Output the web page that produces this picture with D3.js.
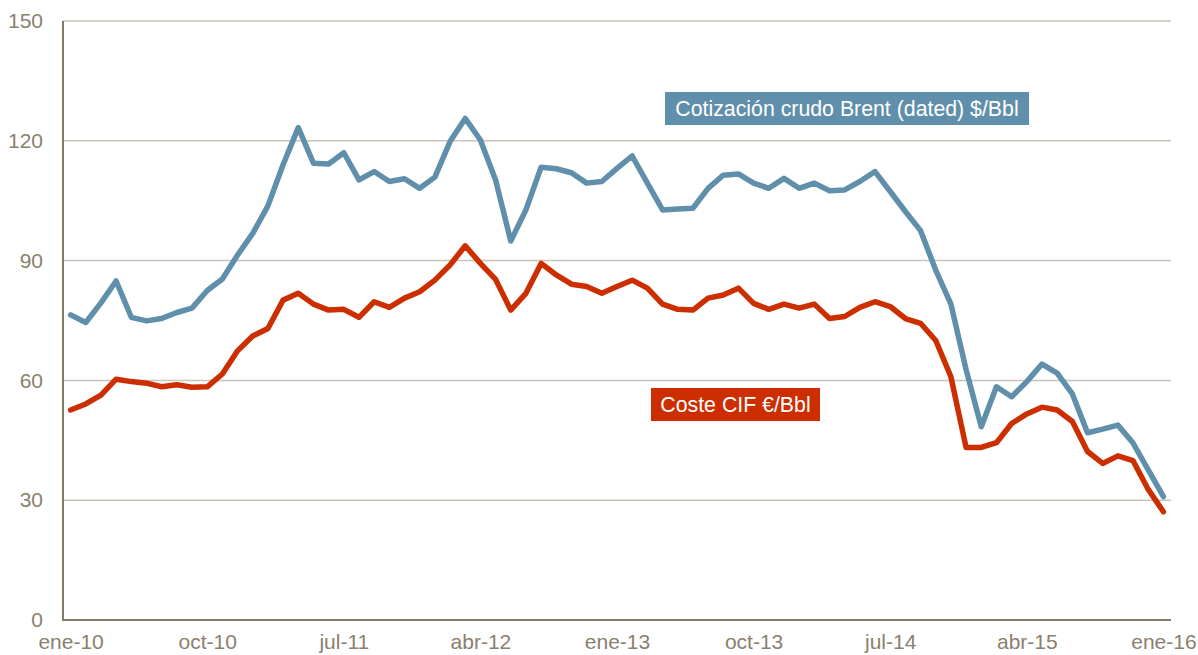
<!DOCTYPE html>
<html><head><meta charset="utf-8">
<script src="https://cdn.jsdelivr.net/npm/d3@7"></script>
<style>
html,body{margin:0;padding:0;background:#fff;}
svg{display:block;font-family:"Liberation Sans",Arial,sans-serif;}
</style></head>
<body><svg id="c" width="1198" height="655"></svg>
<script>
const monthAbbr = ["ene","feb","mar","abr","may","jun","jul","ago","sep","oct","nov","dic"];
const years = [10,11,12,13,14,15,16];
const categories = [];
years.forEach(yr => monthAbbr.forEach((m,i) => { if (yr < 16 || i === 0) categories.push(m + "-" + yr); }));
const tickLabels = ["ene-10","oct-10","jul-11","abr-12","ene-13","oct-13","jul-14","abr-15","ene-16"];
const yTicks = [0,30,60,90,120,150];

const brent = [76.4,74.5,79.4,84.9,75.8,74.9,75.5,77.0,78.1,82.5,85.4,91.4,
  96.8,103.7,114.0,123.3,114.4,114.2,117.0,110.2,112.3,109.8,110.5,108.1,
  110.9,119.8,125.6,120.2,110.2,94.9,102.7,113.4,113.0,112.0,109.4,109.8,
  113.1,116.2,109.4,102.7,102.9,103.1,108.1,111.4,111.7,109.4,108.1,110.6,
  108.1,109.4,107.5,107.7,109.8,112.3,107.3,102.3,97.5,87.6,79.1,62.7,
  48.4,58.4,55.9,59.7,64.1,61.8,56.6,46.9,47.8,48.8,44.3,37.6,30.9];
const cif = [52.6,54.1,56.3,60.3,59.7,59.3,58.4,58.9,58.3,58.4,61.6,67.4,
  71.1,73.0,80.1,81.8,79.1,77.6,77.8,75.8,79.7,78.3,80.6,82.2,
  85.1,88.9,93.7,89.3,85.3,77.6,81.8,89.3,86.4,84.1,83.5,81.8,
  83.5,85.1,83.1,79.1,77.8,77.6,80.6,81.4,83.1,79.3,77.8,79.1,
  78.1,79.1,75.5,76.0,78.3,79.7,78.5,75.5,74.3,70.0,60.9,43.2,
  43.2,44.4,49.2,51.6,53.3,52.6,49.7,42.2,39.2,41.1,39.9,32.7,27.1];
const seriesNames = ["Cotización crudo Brent (dated) $/Bbl","Coste CIF €/Bbl"];

(function(){
const svg = d3.select("#c");
const mLeft = 63, mRight = 1171, mTop = 21, mBottom = 620;
const x = d3.scalePoint().domain(categories).range([mLeft, mRight]).padding(0.5);
const y = d3.scaleLinear().domain([0,150]).range([mBottom, mTop]);

const gridColor = "#c9c4bc", axisColor = "#857b67", textColor = "#8a806e";
const blue = "#5f8faa", red = "#cc2e00";

svg.append("g").selectAll("line").data(yTicks.filter(d => d > 0)).join("line")
  .attr("x1", mLeft).attr("x2", mRight)
  .attr("y1", d => y(d)).attr("y2", d => y(d))
  .attr("stroke", gridColor).attr("stroke-width", 1.5);

const yAxis = d3.axisLeft(y).tickValues(yTicks).tickSize(0).tickPadding(20);
const gy = svg.append("g").attr("transform", `translate(${mLeft},0)`).call(yAxis);
gy.select(".domain").remove();
gy.selectAll("text").attr("fill", textColor).style("font-size","21px")
  .style("font-family","'Liberation Sans',Arial,sans-serif");

const xAxis = d3.axisBottom(x).tickValues(tickLabels).tickSize(0).tickPadding(14);
const gx = svg.append("g").attr("transform", `translate(0,${mBottom})`).call(xAxis);
gx.select(".domain").remove();
gx.selectAll("text").attr("fill", textColor).style("font-size","21px")
  .style("font-family","'Liberation Sans',Arial,sans-serif");

svg.append("line").attr("x1", mLeft).attr("x2", mLeft).attr("y1", mTop).attr("y2", mBottom)
  .attr("stroke", axisColor).attr("stroke-width", 2);
svg.append("line").attr("x1", mLeft - 1).attr("x2", mRight).attr("y1", mBottom).attr("y2", mBottom)
  .attr("stroke", axisColor).attr("stroke-width", 2);

const line = d3.line().x((d,i) => x(categories[i])).y(d => y(d));
svg.append("path").datum(brent).attr("d", line).attr("fill","none")
  .attr("stroke", blue).attr("stroke-width", 5.5).attr("stroke-linejoin","round").attr("stroke-linecap","round");
svg.append("path").datum(cif).attr("d", line).attr("fill","none")
  .attr("stroke", red).attr("stroke-width", 5.5).attr("stroke-linejoin","round").attr("stroke-linecap","round");

function label(text, cx, cy, w, h, color) {
  const g = svg.append("g");
  g.append("rect").attr("x", cx - w/2).attr("y", cy - h/2).attr("width", w).attr("height", h).attr("fill", color);
  g.append("text").attr("x", cx).attr("y", cy).attr("dy","0.36em").attr("text-anchor","middle")
    .attr("fill","#fff").style("font-size","21.3px").text(text);
}
label(seriesNames[0], 847, 108.5, 364, 33, blue);
label(seriesNames[1], 735.5, 404.5, 169, 33, red);
})();
</script></body></html>
